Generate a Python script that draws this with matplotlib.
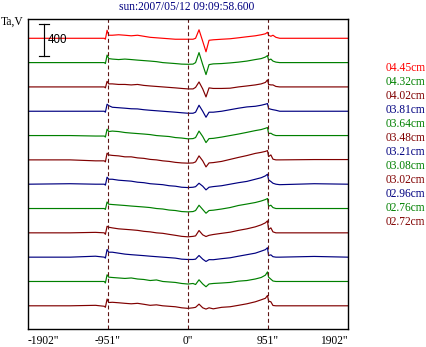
"""Stacked Ta,V profiles for the 2007/05/12 sun scan, one trace per wavelength."""

import matplotlib

matplotlib.use("Agg")
import matplotlib.pyplot as plt
import numpy as np

TITLE = "sun:2007/05/12 09:09:58.600"

# positions along the scan (arcsec) where the trace values below were read
scan_x = [-1902, -1400, -1100, -995, -982, -962, -942, -900, -825, -750,
          -675, -600, -525, -450, -375, -300, -225, -150, -75, 0,
          60, 90, 131, 175, 214, 250, 300, 400, 500, 600,
          700, 800, 870, 920, 945, 958, 985, 1010, 1045, 1090,
          1500, 1902]

wavelengths = ["04.45cm", "04.32cm", "04.02cm", "03.81cm", "03.64cm", "03.48cm",
               "03.21cm", "03.08cm", "03.02cm", "02.96cm", "02.76cm", "02.72cm"]

# Ta,V relative to each trace's own quiet level
ta_0445 = [0, 0, 0, 0, -12, 100, 38, 38, 44, 38, 31, 38, 25, 12, 6, 0, -6, -12, -12, -12,
           -12, 0, 106, -38, -169, -25, -19, -12, -6, 6, 19, 31, 44, 56, 75, 38, 25, 38, 12, 0, 0, 0]
ta_0432 = [0, 0, 0, 0, -12, 94, 50, 44, 38, 44, 38, 31, 25, 19, 12, 0, -6, -12, -19, -21,
           -19, 0, 125, -25, -150, -25, -16, -12, -4, 6, 19, 38, 50, 69, 88, 31, 44, 19, 6, 0, 0, 0]
ta_0402 = [0, 0, 0, 0, -12, 70, 38, 38, 31, 31, 25, 31, 19, 12, 6, 0, -6, -12, -19, -25,
           -25, -6, 62, -25, -125, -12, -19, -19, -16, 0, 12, 25, 38, 56, 88, 31, 25, 25, 6, 0, 0, 0]
ta_0381 = [0, 0, 0, 0, -12, 88, 70, 50, 44, 38, 31, 29, 19, 12, 6, 0, -6, -12, -19, -25,
           -25, -12, 75, 0, -75, -12, -12, 0, 19, 38, 54, 62, 75, 88, 96, 34, 25, 19, 12, 0, 0, 0]
ta_0364 = [0, 0, -6, -6, -19, 80, 50, 56, 50, 38, 31, 25, 19, 12, 0, -6, -12, -25, -31, -41,
           -38, -25, 56, -12, -88, -38, -35, -19, 0, 19, 40, 62, 75, 91, 100, 25, 29, 12, 0, 0, 0, 0]
ta_0348 = [0, 0, -12, -12, -25, 84, 62, 56, 50, 38, 38, 25, 19, 6, 0, -12, -19, -31, -38, -41,
           -38, -25, 50, -12, -88, -38, -34, -19, 6, 31, 54, 81, 94, 106, 116, 41, 62, 9, 0, 0, 4, 4]
ta_0321 = [0, 6, 0, 0, -12, 88, 62, 62, 50, 44, 38, 25, 19, 6, 0, -6, -19, -25, -38, -42,
           -38, -31, 12, -25, -71, -38, -30, -19, 0, 19, 35, 62, 81, 104, 125, 54, 34, 12, 0, -6, 6, 0]
ta_0308 = [0, 0, 0, 0, -12, 82, 54, 50, 44, 38, 31, 25, 19, 12, 0, -6, -19, -25, -38, -42,
           -38, -25, 41, -12, -59, -25, -21, -6, 12, 38, 56, 75, 94, 112, 125, 29, 41, 12, 0, 0, 0, 0]
ta_0302 = [0, 0, 6, 0, -19, 82, 70, 62, 50, 44, 38, 31, 19, 12, 0, -6, -19, -31, -44, -50,
           -44, -38, 29, -25, -46, -31, -21, -6, 8, 31, 50, 75, 100, 125, 150, 41, 62, 12, 0, 0, 0, 0]
ta_0296 = [0, 0, 12, 0, -12, 96, 62, 62, 50, 38, 31, 25, 19, 12, 6, 0, -6, -12, -25, -29,
           -29, -25, 21, -25, -54, -31, -32, -19, -8, 12, 31, 50, 75, 94, 118, 21, 29, 6, 0, 0, 9, 0]
ta_0276 = [0, 0, 0, 0, -19, 84, 54, 50, 44, 38, 44, 31, 25, 12, 19, 0, -6, -12, -25, -32,
           -25, -38, 21, -31, -66, -31, -25, -19, -12, 4, 12, 31, 50, 79, 120, 54, 29, 6, 0, 0, 0, 0]
ta_0272 = [0, 0, 6, -6, -19, 84, 41, 44, 38, 31, 25, 31, 19, 6, 12, 0, -6, -12, -25, -32,
           -25, -19, 21, -25, -41, -25, -38, -19, -12, 6, 25, 50, 75, 94, 129, 59, 50, 4, 0, 0, 0, 0]

traces = [ta_0445, ta_0432, ta_0402, ta_0381, ta_0364, ta_0348,
          ta_0321, ta_0308, ta_0302, ta_0296, ta_0276, ta_0272]

tick_positions = [-1902, -951, 0, 951, 1902]
tick_labels = ['-1902"', '-951"', '0"', '951"', '1902"']
scale_value = 400

RED, GREEN, MAROON, NAVY = "#ff0000", "#008000", "#800000", "#000080"
trace_colors = [RED, GREEN, MAROON, NAVY, GREEN, MAROON,
                NAVY, GREEN, MAROON, NAVY, GREEN, MAROON]

SERIF = "Liberation Serif"
SANS = "Liberation Sans"
FS = 8.3
LW = 0.85


def main() -> None:
    W, H = 426, 347
    figure = plt.figure(figsize=(W / 100, H / 100), dpi=100)
    axis = figure.add_axes([28 / W, 18 / H, 320 / W, 310 / H])

    spacing = 304
    offsets = 290 + spacing * np.arange(len(traces))[::-1]

    for values, offset, color in zip(traces, offsets, trace_colors):
        axis.plot(scan_x, np.asarray(values) + offset, color=color, linewidth=LW)

    for position in tick_positions[1:-1]:
        axis.axvline(position, color="#5e1414", linewidth=0.8,
                     linestyle=(0, (3.6, 2.4)))

    # 400 scale bar in the top-left corner
    bar_x, bar_top = -1712, 3812
    bar_bottom = bar_top - scale_value
    axis.plot([bar_x, bar_x], [bar_bottom, bar_top], color="black", linewidth=LW)
    for y in (bar_bottom, bar_top):
        axis.plot([bar_x - 60, bar_x + 60], [y, y], color="black", linewidth=LW)
    axis.text(bar_x + 40, (bar_top + bar_bottom) / 2, str(scale_value),
              fontsize=FS, family=SANS, va="center", ha="left")

    axis.set_xlim(tick_positions[0], tick_positions[-1])
    axis.set_ylim(0, 3875)
    axis.set_yticks([])
    axis.set_xticks(tick_positions)
    axis.set_xticklabels(tick_labels, family=SERIF, fontsize=FS)
    labels = axis.get_xticklabels()
    labels[0].set_ha("left")
    labels[-1].set_ha("right")
    axis.tick_params(axis="x", length=0, pad=4)
    for spine in axis.spines.values():
        spine.set_linewidth(1.0)

    figure.text(187 / W, 1 - 7.5 / H, TITLE, color=NAVY, family=SERIF,
                fontsize=FS, ha="center", va="center")
    figure.text(1 / W, 1 - 21.5 / H, "Ta,V", family=SERIF, fontsize=FS,
                ha="left", va="center")

    for index, (label, color) in enumerate(zip(wavelengths, trace_colors)):
        figure.text(386 / W, 1 - (68 + 14.0 * index) / H, label, color=color,
                    family=SERIF, fontsize=FS, ha="left", va="center")

    figure.savefig("out.png", dpi=100)


if __name__ == "__main__":
    main()
